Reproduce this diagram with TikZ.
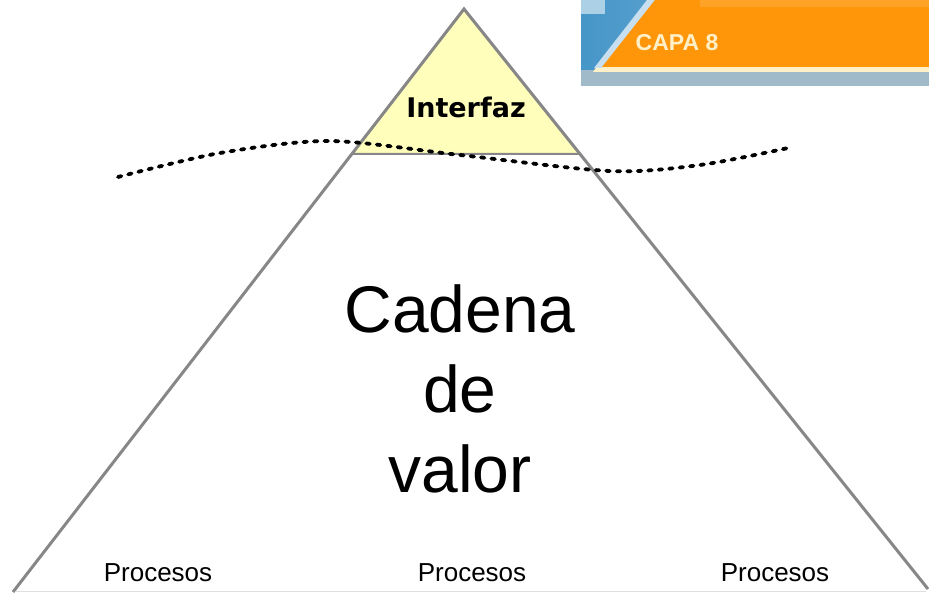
\documentclass[tikz,border=0pt]{standalone}
\usepackage{fontspec}
\setmainfont{Liberation Sans}
\newfontfamily\verdanafont{DejaVu Sans}
\usepackage{tikz}
\usetikzlibrary{positioning}
\usetikzlibrary{calc}

\definecolor{pyrgray}{RGB}{135,135,135}
\definecolor{ifzyellow}{RGB}{255,255,187}
\definecolor{capaorange}{RGB}{255,150,10}
\definecolor{capablue}{RGB}{70,150,200}
\definecolor{capacream}{RGB}{255,240,200}

\tikzset{
  edge/.style={draw=pyrgray, line width=3pt},
  layer/.style={font=\fontsize{26}{30}\selectfont},
  waterline/.style={line width=3.8pt, line cap=round, dash pattern=on 3.5pt off 7pt}
}

\begin{document}
\begin{tikzpicture}[x=1pt,y=-1pt]
\useasboundingbox (0,0) rectangle (929,593);

% banner top right
\fill[left color=capablue, right color=capablue!60] (581,0) rectangle (929,86);
\fill[capablue!45!white] (581,0) rectangle (605,14);
\fill[gray!45!capablue!60] (581,70) rectangle (929,86);
\fill[capacream] (597,66) -- (929,66) -- (929,72) -- (593,72) -- cycle;
\fill[white!70!capablue] (594,68) -- (647,0) -- (656,0) -- (602,68) -- cycle;
\fill[capaorange] (602,67) -- (655,0) -- (929,0) -- (929,67) -- cycle;
\fill[capaorange!88!white] (700,0) rectangle (929,7);
\node[font=\fontsize{23}{24}\selectfont\bfseries, text=capacream] (capa) at (677,43) {CAPA 8};

% pyramid
\coordinate (top) at (464,9);
\coordinate (bl)  at (13,592);
\coordinate (br)  at (928,589);
\coordinate (il)  at (352,154);
\coordinate (ir)  at (580,154);

\draw[gray!25, line width=0.8pt] (16,591) -- (926,591);
\filldraw[fill=ifzyellow, draw=pyrgray, line width=2pt] (top) -- (il) -- (ir) -- cycle;
\draw[edge] (bl) -- (top) -- (br);

% dotted line
\draw[waterline] plot[smooth] coordinates {(118,177) (220,153) (330,141) (460,155) (610,171) (700,165) (788,148)};

\node[font=\verdanafont\bfseries\fontsize{27}{30}\selectfont] (ifz) at (466,107) {Interfaz};
\node[align=center, font=\fontsize{66}{80}\selectfont] (cadena) at (460,389) {Cadena\\de\\valor};

\foreach \x/\n in {158/a,472/b,775/c}
  \node[layer] (proc\n) at (\x,573) {Procesos};
\end{tikzpicture}
\end{document}
